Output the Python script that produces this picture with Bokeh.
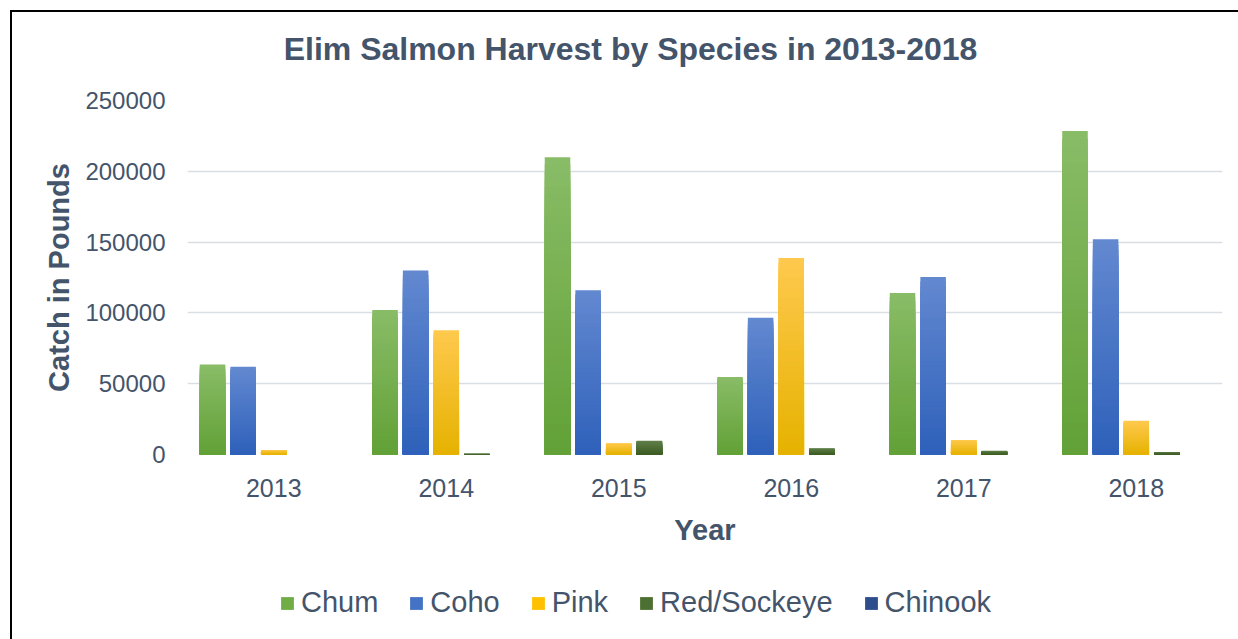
from bokeh.plotting import figure
from bokeh.layouts import column
from bokeh.models import (ColumnDataSource, Range1d, FixedTicker, NumeralTickFormatter,
                          Legend, LegendItem, Label)
from bokeh.transform import dodge
from bokeh.embed import file_html
from bokeh.resources import INLINE

# Elim salmon harvest (pounds) by species and year
years = ["2013", "2014", "2015", "2016", "2017", "2018"]
species = ["Chum", "Coho", "Pink", "Red/Sockeye", "Chinook"]
chum = [63500, 102000, 210000, 54800, 114000, 228500]
coho = [62000, 130000, 116000, 96500, 125300, 152000]
pink = [3200, 87800, 8000, 138800, 10300, 23800]
sockeye = [0, 500, 9700, 4300, 2600, 1800]
chinook = [0, 0, 0, 0, 0, 0]
y_ticks = [0, 50000, 100000, 150000, 200000, 250000]

series = [chum, coho, pink, sockeye, chinook]

# gradient end colours (top, bottom) and a solid swatch colour per species
shades = [("#89BC67", "#62A136"),
          ("#6389D0", "#2E60BA"),
          ("#FFC94E", "#E5B200"),
          ("#607F4B", "#3C5C22"),
          ("#42609C", "#1E3A78")]
swatches = ["#70AD47", "#4472C4", "#FFC000", "#4C7031", "#2E4D8C"]

TEXT = "#44546A"
FONT = "Liberation Sans"
BAND_COUNT = 40
PITCH = 0.1775
BAR_W = 0.148


def mix(c1, c2, t):
    a = [int(c1[i:i + 2], 16) for i in (1, 3, 5)]
    b = [int(c2[i:i + 2], 16) for i in (1, 3, 5)]
    return "#%02x%02x%02x" % tuple(round(a[i] + (b[i] - a[i]) * t) for i in range(3))


def strip(height):
    """Blank, axis-less figure used for the heading and the legend rows."""
    f = figure(x_range=years, y_range=Range1d(0, 1), width=1226, height=height,
               output_backend="svg", toolbar_location=None,
               x_axis_type=None, y_axis_type=None,
               min_border_left=0, min_border_right=0, min_border_top=0, min_border_bottom=0,
               background_fill_color="white", border_fill_color="white")
    f.outline_line_color = None
    f.xgrid.grid_line_color = None
    f.ygrid.grid_line_color = None
    return f


# heading
t = strip(74)
t.add_layout(Label(x=443, y=38, x_units="screen", y_units="screen",
                   text="Elim Salmon Harvest by Species in 2013-2018",
                   text_align="center", text_baseline="middle",
                   text_font=FONT, text_font_style="bold",
                   text_font_size="32px", text_color=TEXT))

# main chart
p = figure(x_range=years, y_range=Range1d(0, 250000),
           width=1226, height=486, output_backend="svg", toolbar_location=None,
           min_border_left=175, min_border_right=16, min_border_top=14, min_border_bottom=118,
           background_fill_color="white", border_fill_color="white")
p.x_range.range_padding = 0
p.outline_line_color = None

p.xgrid.grid_line_color = None
p.ygrid.grid_line_color = "#D9DEE5"
p.ygrid.grid_line_width = 1.5
p.yaxis.ticker = FixedTicker(ticks=y_ticks)
p.yaxis.formatter = NumeralTickFormatter(format="0")

for ax in (p.xaxis[0], p.yaxis[0]):
    ax.axis_line_color = None
    ax.major_tick_line_color = None
    ax.minor_tick_line_color = None
    ax.major_tick_in = 0
    ax.major_tick_out = 0
    ax.major_label_text_font = FONT
    ax.major_label_text_font_size = "24px"
    ax.major_label_text_color = TEXT
    ax.axis_label_text_font = FONT
    ax.axis_label_text_font_size = "29px"
    ax.axis_label_text_font_style = "bold"
    ax.axis_label_text_color = TEXT

p.xaxis.axis_label = "Year"
p.xaxis.major_label_text_font_size = "25px"
p.xaxis.major_label_standoff = 24
p.xaxis.axis_label_standoff = 14
p.yaxis.axis_label = "Catch in Pounds"
p.yaxis.major_label_standoff = 22
p.yaxis.axis_label_standoff = 7

# legend row
q = strip(67)

legend_items = []
for i, (name, vals) in enumerate(zip(species, series)):
    top_c, bot_c = shades[i]
    xs, tops, cols = [], [], []
    # tallest band first, then progressively shorter, darker bands on top of it
    for k in range(BAND_COUNT - 1, -1, -1):
        frac = (k + 1) / BAND_COUNT
        col = mix(top_c, bot_c, 1 - (k + 0.5) / BAND_COUNT)
        for yr, v in zip(years, vals):
            xs.append(yr)
            tops.append(v * frac)
            cols.append(col)
    src = ColumnDataSource(dict(year=xs, top=tops, color=cols))
    offset = (i - 2) * PITCH
    p.vbar(x=dodge("year", offset, range=p.x_range), top="top", bottom=0, width=BAR_W,
           source=src, fill_color="color", line_color=None)
    # zero-height key bar that only supplies the legend swatch
    key = q.vbar(x="year", top="top", bottom=0, width=BAR_W,
                 source=ColumnDataSource(dict(year=[years[0]], top=[0])),
                 fill_color=swatches[i], line_color=None)
    legend_items.append(LegendItem(label=name, renderers=[key]))

legend = Legend(items=legend_items, orientation="horizontal", location=(92, 20),
                glyph_width=16, glyph_height=16, label_standoff=6, spacing=30,
                padding=0, margin=0, border_line_color=None, background_fill_alpha=0,
                label_text_font=FONT, label_text_font_size="29px", label_text_color=TEXT)
q.add_layout(legend, "center")

layout = column(t, p, q, spacing=0,
                styles={"margin-left": "10px", "margin-top": "10px",
                        "border-left": "2px solid black", "border-top": "2px solid black"})

open("out.html", "w").write(file_html(layout, INLINE))
